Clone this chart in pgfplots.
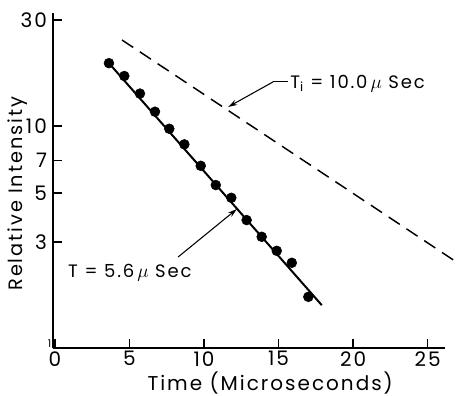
\documentclass[border=0pt]{standalone}
\usepackage{fontspec}
\setmainfont{Poppins}
\newfontfamily\lbl[LetterSpace=10]{Poppins}
\newcommand\tl[1]{\hbox{\lbl\fontsize{15}{16}\selectfont #1}}
\usepackage{pgfplots}
\pgfplotsset{compat=1.18}
\usetikzlibrary{arrows.meta}
\begin{document}
\begin{tikzpicture}[x=1pt,y=1pt]
\useasboundingbox (-39.75,-36) rectangle (306.75,261);
\begin{axis}[
  at={(0,0)}, anchor=south west, scale only axis,
  width=294pt, height=251.25pt,
  ymode=log, xmin=-0.134, xmax=26.17, ymin=1, ymax=32.3,
  axis x line*=bottom, axis y line*=left,
  axis line style={line width=1.4pt,-},
  clip=false,
  xtick={0,5,10,15,20,25}, xticklabels={\tl{0},\tl{5},\tl{10},\tl{15},\tl{20},\tl{25}},
  ytick={3,5,7,10,30}, yticklabels={\tl{3},\tl{5},\tl{7},\tl{10},\tl{30}},
  minor tick num=0, yminorticks=false, xminorticks=false,
  tick align=inside, major tick length=7pt,
  tick style={line width=1pt,black},
  xticklabel style={yshift=1pt},
  yticklabel style={xshift=-1pt},
  xlabel={\lbl\fontsize{15}{17}\selectfont Time (Microseconds)},
  ylabel={\lbl\fontsize{14.5}{17}\selectfont Relative Intensity},
  xlabel style={at={(axis description cs:0.554,-0.104)}, anchor=center},
  ylabel style={at={(axis description cs:-0.090,0.46)}, anchor=center, rotate=0},
]
\addplot[only marks, mark=*, mark size=3.7pt, black] coordinates {
 (3.62,19.2) (4.65,16.8) (5.70,14.0) (6.71,11.6) (7.67,9.72) (8.68,8.27)
 (9.78,6.62) (10.79,5.42) (11.83,4.75) (12.86,3.77) (13.87,3.17)
 (14.88,2.74) (15.89,2.42) (17.0,1.70)
};
\addplot[black, line width=1.5pt] coordinates {(3.62,19.2) (17.9,1.56)};
\addplot[black, line width=1.1pt, dash pattern=on 10pt off 6pt] coordinates {(4.5,24.4) (27.1,2.4)};
\draw[line width=0.8pt] (axis cs:15.64,15.8) -- (axis cs:14.63,15.8);
\draw[line width=0.8pt, -{Stealth[length=7pt,width=4pt]}] (axis cs:14.63,15.8) -- (axis cs:11.61,12.18);
\node[anchor=base west, inner sep=0pt, font=\lbl\fontsize{13.5}{15}\selectfont] at (axis cs:15.77,14.8) {T$_{\mathrm{i}}$ = 10.0\,$\mu$ Sec};
\draw[line width=0.8pt, -{Stealth[length=7pt,width=4pt]}] (axis cs:8.26,2.57) -- (axis cs:12.21,4.23);
\node[anchor=base west, inner sep=0pt, font=\lbl\fontsize{13.5}{15}\selectfont] at (axis cs:0.87,2.07) {T = 5.6\,$\mu$ Sec};
\node[anchor=east, inner sep=1pt, font=\lbl\fontsize{8}{9}\selectfont] at ([yshift=3pt]axis cs:-0.134,1) {1};
\end{axis}
\end{tikzpicture}
\end{document}
